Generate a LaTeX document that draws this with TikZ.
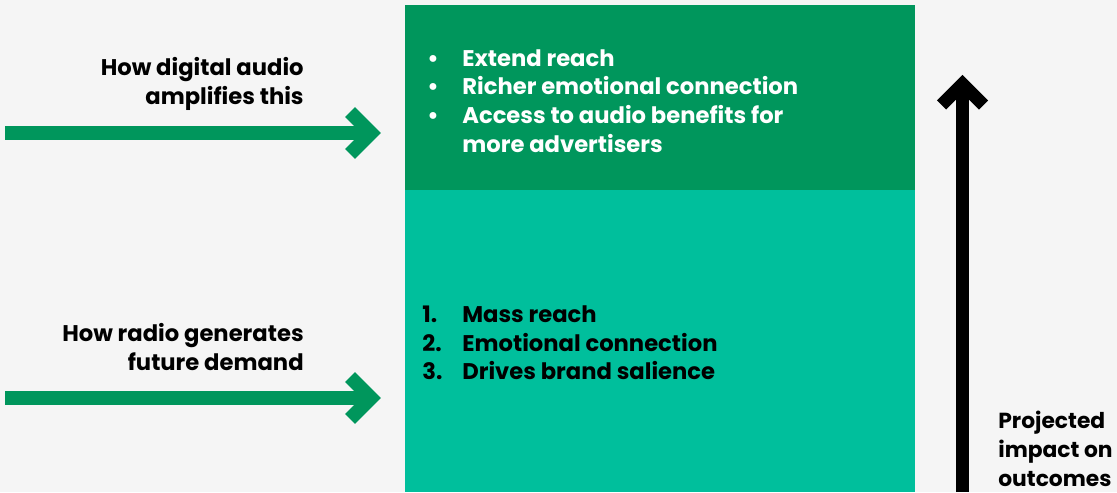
\documentclass[tikz,border=0pt]{standalone}
\usepackage{fontspec}
\setmainfont{Poppins}
\usepackage{tikz}
\usetikzlibrary{calc}

\definecolor{pagegray}{HTML}{F5F5F5}
\definecolor{darkgreen}{HTML}{00965C}
\definecolor{tealgreen}{HTML}{00BF9C}

\begin{document}
\begin{tikzpicture}[
	box/.style={rectangle, anchor=north west, inner sep=0pt, minimum width=10.2cm},
	label/.style={font=\fontsize{12.9}{16.3}\selectfont\bfseries, inner sep=0pt},
	flow/.style={line width=0.28cm, darkgreen, miter limit=4},
	impact/.style={line width=0.26cm, black, miter limit=4}
]
	\useasboundingbox[fill=pagegray] (0,0) rectangle (22.34,9.84);

	% the two stacked boxes
	\node[box, fill=darkgreen, minimum height=3.7cm] (digital) at (8.1,9.74) {};
	\node[box, fill=tealgreen, minimum height=6.04cm] (radio) at (8.1,6.04) {};

	\node[label, white, align=left, anchor=west] (digital list) at (8.44,7.82)
		{\makebox[0.8cm][l]{\hspace{0.1cm}\textbullet}Extend reach\\
		 \makebox[0.8cm][l]{\hspace{0.1cm}\textbullet}Richer emotional connection\\
		 \makebox[0.8cm][l]{\hspace{0.1cm}\textbullet}Access to audio benefits for\\
		 \makebox[0.8cm][l]{}more advertisers};
	\node[label, align=left, anchor=west] (radio list) at (8.44,2.98)
		{\makebox[0.8cm][l]{1.}Mass reach\\
		 \makebox[0.8cm][l]{2.}Emotional connection\\
		 \makebox[0.8cm][l]{3.}Drives brand salience};

	% side labels
	\node[label, align=right, anchor=east] (digital text) at (6.08,8.16) {How digital audio\\amplifies this};
	\node[label, align=right, anchor=east] (radio text) at (6.08,2.9) {How radio generates\\future demand};
	\node[label, font=\fontsize{12.4}{16.3}\selectfont\bfseries, align=left, anchor=west] (impact text) at (19.96,0.86) {Projected\\impact on\\outcomes};

	% green arrows into the boxes
	\coordinate (digital tail) at (0.1,7.18);
	\coordinate (radio tail) at (0.1,1.88);
	\coordinate (digital head) at ([xshift=-0.68cm]digital tail -| digital.west);
	\coordinate (radio head) at ([xshift=-0.68cm]radio tail -| radio.west);
	\draw[flow] (digital tail) -- (digital head);
	\draw[flow] ($(digital head)+(-0.42,0.42)$) -- (digital head) -- ($(digital head)+(-0.42,-0.42)$);
	\draw[flow] (radio tail) -- (radio head);
	\draw[flow] ($(radio head)+(-0.42,0.42)$) -- (radio head) -- ($(radio head)+(-0.42,-0.42)$);

	% upward arrow
	\coordinate (impact tail) at (19.25,0);
	\coordinate (impact head) at (19.25,8.16);
	\draw[impact] (impact tail) -- (impact head);
	\draw[impact] ($(impact head)+(-0.42,-0.42)$) -- (impact head) -- ($(impact head)+(0.42,-0.42)$);
\end{tikzpicture}
\end{document}
